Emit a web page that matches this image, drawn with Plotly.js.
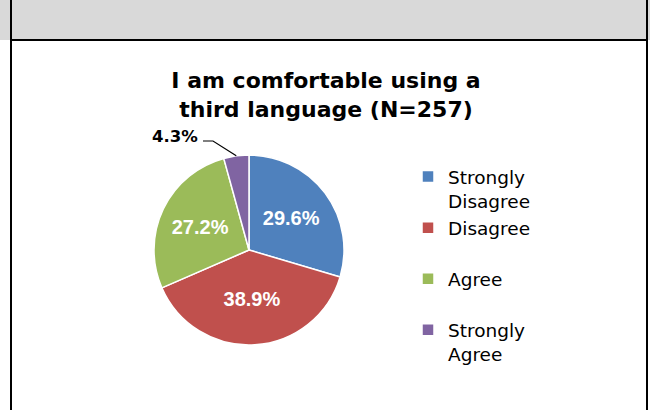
<!DOCTYPE html>
<html><head><meta charset="utf-8">
<script src="https://cdn.plot.ly/plotly-3.0.1.min.js"></script>
<style>html,body{margin:0;padding:0;background:#fff}#chart{width:650px;height:410px}</style>
</head><body><div id="chart"></div>
<script>
// ---- data ----
const categories = ['Strongly Disagree', 'Disagree', 'Agree', 'Strongly Agree'];
const legendLabels = ['Strongly<br>Disagree', 'Disagree<br> ', 'Agree<br> ', 'Strongly<br>Agree'];
const counts = [76, 100, 70, 11];          // N = 257
const percentLabels = ['29.6%', '38.9%', '27.2%', '4.3%'];
const titleText = 'I am comfortable using a<br>third language (N=257)';

// ---- style ----
const sliceColors = ['#4F81BD', '#C0504D', '#9BBB59', '#8064A2'];
const W = 650, H = 410;
const cx = 249, cy = 250, R = 95;   // pie centre / radius in px

// leader line for the small slice, derived from the data
const total = counts.reduce((a, b) => a + b, 0);
let cum = 0; for (let i = 0; i < 3; i++) cum += counts[i];
const midFrac = (cum + counts[3] / 2) / total;
const ang = midFrac * 2 * Math.PI;
const tipX = cx + R * Math.sin(ang), tipY = cy - R * Math.cos(ang);
const px = x => x / W, py = y => 1 - y / H;

const trace = {
  type: 'pie',
  labels: legendLabels,
  values: counts,
  text: percentLabels,
  textinfo: 'text',
  textposition: ['inside', 'inside', 'inside', 'none'],
  insidetextorientation: 'horizontal',
  insidetextfont: {family: 'Liberation Sans, Arial, sans-serif', size: 20, color: '#ffffff', weight: 'bold'},
  sort: false,
  direction: 'clockwise',
  rotation: 0,
  marker: {colors: sliceColors, line: {color: '#ffffff', width: 1.5}},
  domain: {x: [px(cx - R), px(cx + R)], y: [py(cy + R), py(cy - R)]},
  hoverinfo: 'label+percent'
};

const layout = {
  width: W, height: H,
  margin: {l: 0, r: 0, t: 0, b: 0},
  paper_bgcolor: '#ffffff',
  showlegend: true,
  title: {
    text: titleText,
    font: {family: 'DejaVu Sans, sans-serif', size: 22, color: '#000000', weight: 'bold'},
    x: 326 / W, xanchor: 'center', xref: 'paper',
    y: 1 - 88 / H, yanchor: 'top', yref: 'container'
  },
  legend: {
    x: px(408), xanchor: 'left',
    y: py(158), yanchor: 'top',
    valign: 'top',
    font: {family: 'DejaVu Sans, sans-serif', size: 18.5, color: '#000000'},
    bgcolor: 'rgba(0,0,0,0)'
  },
  shapes: [
    {type: 'rect', xref: 'paper', yref: 'paper', x0: 0, x1: 1, y0: py(40), y1: 1,
     fillcolor: '#D9D9D9', line: {width: 0}, layer: 'below'},
    {type: 'line', xref: 'paper', yref: 'paper', x0: px(11), x1: px(647), y0: py(40), y1: py(40),
     line: {color: '#000000', width: 2}},
    {type: 'line', xref: 'paper', yref: 'paper', x0: px(11), x1: px(11), y0: 0, y1: 1,
     line: {color: '#000000', width: 2}},
    {type: 'line', xref: 'paper', yref: 'paper', x0: px(647), x1: px(647), y0: 0, y1: 1,
     line: {color: '#000000', width: 2}},
    {type: 'path', xref: 'paper', yref: 'paper',
     path: 'M ' + px(203) + ' ' + py(141) + ' L ' + px(213) + ' ' + py(141) + ' L ' + px(tipX) + ' ' + py(tipY),
     line: {color: '#000000', width: 1.2}}
  ],
  annotations: [
    {xref: 'paper', yref: 'paper', x: px(200), y: py(136), xanchor: 'right', yanchor: 'middle',
     text: '<b>' + percentLabels[3] + '</b>', showarrow: false,
     font: {family: 'DejaVu Sans, sans-serif', size: 16.5, color: '#000000'}}
  ]
};

Plotly.newPlot('chart', [trace], layout, {displayModeBar: false, staticPlot: true});
</script>
</body></html>
